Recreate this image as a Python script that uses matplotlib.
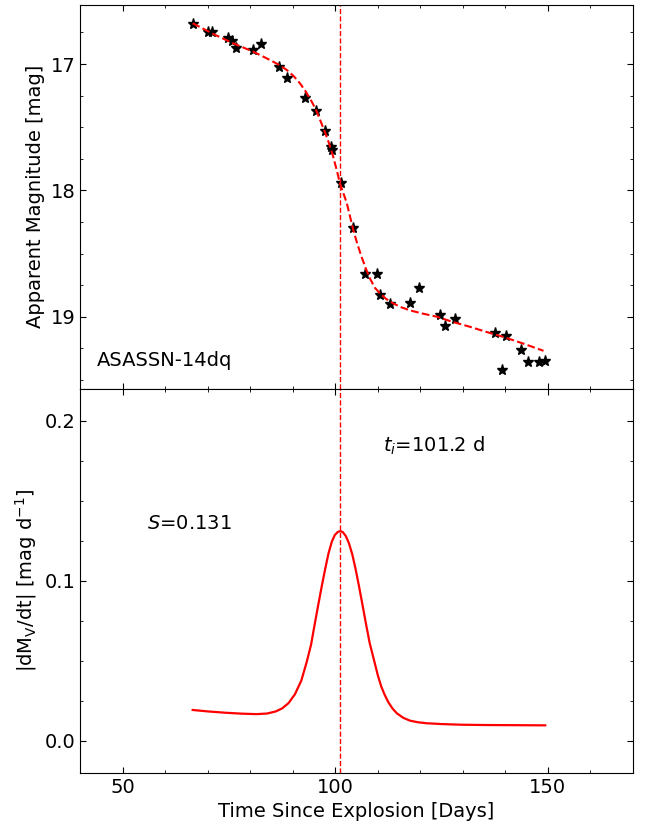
import numpy as np
from matplotlib import pyplot as plt
from matplotlib.ticker import MultipleLocator

t_obs = [66.5, 70.0, 71.0, 74.8, 75.7, 76.6, 80.7, 82.6, 86.7, 88.6, 92.8,
         95.5, 97.5, 98.9, 99.3, 101.3, 104.1, 107.1, 109.8, 110.5, 112.8,
         117.7, 119.8, 124.6, 125.9, 128.2, 137.7, 139.2, 140.2, 143.6,
         145.4, 148.0, 149.3]
mag_obs = [16.68, 16.75, 16.75, 16.79, 16.82, 16.87, 16.89, 16.84, 17.02,
           17.11, 17.27, 17.37, 17.53, 17.66, 17.68, 17.94, 18.30, 18.66,
           18.66, 18.83, 18.90, 18.89, 18.77, 18.99, 19.07, 19.02, 19.13,
           19.42, 19.15, 19.26, 19.36, 19.36, 19.35]

# fitted light curve (dashed)
t_fit = [66.45, 71.3, 76.0, 80.7, 84.65, 86.7, 88.6, 90.2, 91.7, 93.1, 94.5,
         95.5, 96.4, 97.4, 98.4, 99.4, 100.35, 101.1, 102.3, 102.7, 103.5,
         104.25, 105.2, 106.2, 107.2, 108.2, 109.3, 110.5, 112.0, 113.7,
         115.5, 117.6, 120.5, 123.9, 127.5, 131.7, 135.5, 139.55, 144.0, 149.0]
mag_fit = [16.677, 16.762, 16.836, 16.902, 16.968, 17.005, 17.047, 17.095,
           17.153, 17.22, 17.30, 17.365, 17.44, 17.525, 17.615, 17.72, 17.84,
           17.945, 18.06, 18.10, 18.21, 18.315, 18.425, 18.527, 18.62, 18.70,
           18.77, 18.815, 18.86, 18.896, 18.925, 18.95, 18.975, 19.00, 19.04,
           19.08, 19.12, 19.16, 19.21, 19.27]

# |dM/dt| of the fit
t_der = [66.45, 70.0, 74.0, 78.0, 81.5, 84.0, 86.0, 87.5, 89.0, 90.5, 92.0,
         93.3, 94.3, 95.2, 96.0, 96.8, 97.6, 98.4, 99.2, 99.9, 100.6, 101.2,
         101.8, 102.5, 103.2, 104.0, 104.8, 105.6, 106.4, 107.2, 108.1,
         109.1, 110.0, 110.8, 111.6, 112.5, 113.5, 114.5, 116.0, 117.6,
         119.5, 121.5, 125.0, 129.4, 135.0, 142.0, 149.4]
der = [0.0192, 0.0183, 0.0175, 0.0169, 0.0166, 0.0170, 0.0183, 0.0202,
       0.0235, 0.0290, 0.0375, 0.0494, 0.0600, 0.0734, 0.0850, 0.0963,
       0.1070, 0.1170, 0.1245, 0.1286, 0.1305, 0.1310, 0.1303, 0.1278,
       0.1235, 0.1165, 0.1070, 0.0963, 0.0850, 0.0734, 0.0610, 0.0505,
       0.0410, 0.0340, 0.0288, 0.0240, 0.0200, 0.0171, 0.0143, 0.0125,
       0.0115, 0.0109, 0.0104, 0.0100, 0.0098, 0.0097, 0.0096]

t_i = 101.2
S = 0.131
name = "ASASSN-14dq"

plt.rcParams['font.size'] = 14

fig, (ax1, ax2) = plt.subplots(2, 1, sharex=True, figsize=(6.45, 8.25), dpi=100)
plt.subplots_adjust(left=0.1245, right=0.981, top=0.9943, bottom=0.0634, hspace=0)

ax1.plot(t_obs, mag_obs, linestyle="None", marker="*", color="black", markersize=8)
ax1.plot(t_fit, mag_fit, color="red", linestyle="--", linewidth=1.5)
ax1.axvline(t_i, color="red", linestyle="--", linewidth=1)
ax1.set_ylim(19.57, 16.53)
ax1.set_yticks([17, 18, 19])
ax1.yaxis.set_minor_locator(MultipleLocator(0.25))
ax1.set_ylabel("Apparent Magnitude [mag]")
ax1.text(43.9, 19.345, name, va="center", ha="left")

ax2.plot(t_der, der, color="red", linewidth=1.6)
ax2.axvline(t_i, color="red", linestyle="--", linewidth=1)
ax2.set_xlim(40, 170)
ax2.set_ylim(-0.02, 0.22)
ax2.set_yticks([0.0, 0.1, 0.2])
ax2.set_yticklabels(["0.0", "0.1", "0.2"])
ax2.yaxis.set_minor_locator(MultipleLocator(0.025))
ax2.xaxis.set_major_locator(MultipleLocator(50))
ax2.xaxis.set_minor_locator(MultipleLocator(10))
ax2.set_xlabel("Time Since Explosion [Days]")
ax2.set_ylabel(r"|dM$_{\rm V}$/dt| [mag d$^{-1}$]")
ax2.text(55.7, 0.1355, r"$S$=%.3f" % S, va="center", ha="left")
ax2.text(111.2, 0.184, r"$t_i$=%.1f d" % t_i, va="center", ha="left")

for ax in [ax1, ax2]:
    ax.tick_params(which="both", direction="in", top=True, right=True)
    ax.tick_params(which="major", length=4)
    ax.tick_params(which="minor", length=2.5)

fig.savefig("out.png", dpi=100)
